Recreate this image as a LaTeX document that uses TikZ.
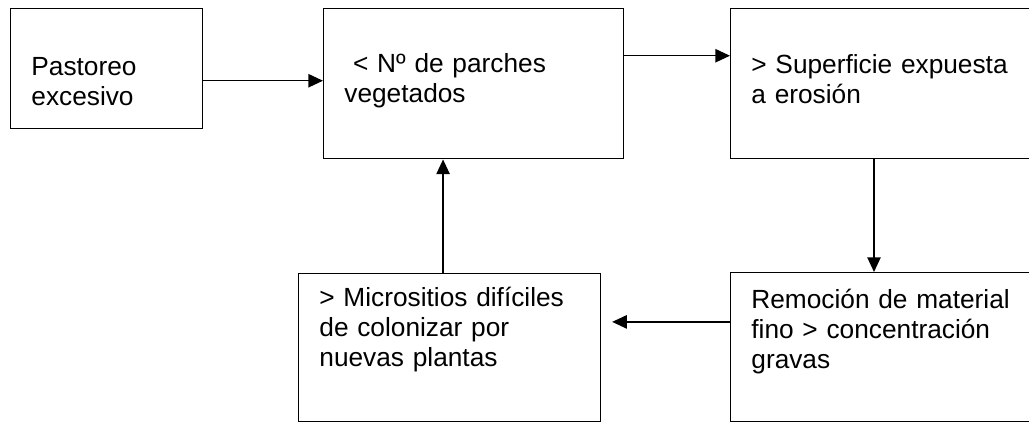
\documentclass[tikz,border=0pt]{standalone}
\usepackage{fontspec}
\setmainfont{Liberation Sans}
\usetikzlibrary{arrows.meta}

\begin{document}
\begin{tikzpicture}[x=1pt, y=1pt,
	box/.style={draw, line width=1.1pt, anchor=north west, inner xsep=15.5pt, inner ysep=0pt,
		align=left, font=\fontsize{19.7pt}{22.5pt}\selectfont},
	arr/.style={line width=1.1pt, -{Triangle[length=11pt, width=10pt]}}
	]
\useasboundingbox (0, 0) rectangle (771.75, -317.25);
\clip (0, 0) rectangle (771.75, -317.25);

\node [box, text width=113pt, text height=50.25pt, text depth=39.75pt] (past) at (7.5, -6) {Pastoreo\\excesivo};
\node [box, text width=194pt, text height=48pt, text depth=64.5pt] (parch) at (242.25, -6) {\ < Nº de parches\\vegetados};
\node [box, text width=201.5pt, text height=48.75pt, text depth=63.75pt] (sup) at (547.5, -6) {> Superficie expuesta\\a erosión};
\node [box, text width=195.5pt, text height=24.75pt, text depth=86.25pt] (micro) at (223.5, -204.75) {> Micrositios difíciles\\de colonizar por\\nuevas plantas};
\node [box, text width=201.5pt, text height=27pt, text depth=84.75pt] (remo) at (547.5, -204) {Remoción de material\\fino > concentración\\gravas};

\coordinate (s1) at ([yshift=-9pt]past.east);
\coordinate (s2) at ([yshift=21pt]parch.east);
\coordinate (s3) at ([xshift=108pt]sup.south west);
\coordinate (s4) at ([yshift=19pt]remo.west);
\coordinate (s5) at ([xshift=-5pt]micro.north);

\draw [arr] (s1) -- (s1 -| parch.west);
\draw [arr] (s2) -- (s2 -| sup.west);
\draw [arr] (s3) -- (s3 |- remo.north);
\draw [arr, shorten >=8pt] (s4) -- (s4 -| micro.east);
\draw [arr] (s5) -- (s5 |- parch.south);
\end{tikzpicture}
\end{document}
